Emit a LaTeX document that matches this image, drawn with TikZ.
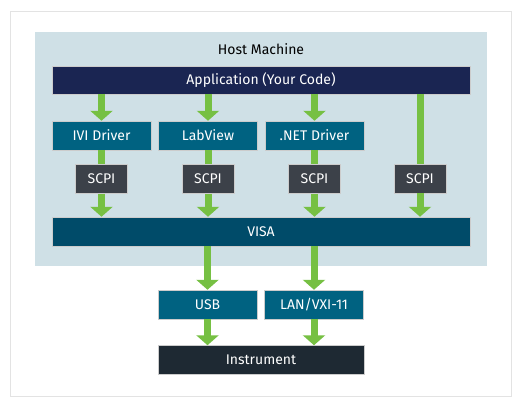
\documentclass[tikz,border=0pt]{standalone}
\usepackage{fontspec}
\setmainfont{Fira Sans}
\usepackage{tikz}
\usetikzlibrary{arrows.meta, positioning}
\definecolor{hostColor}{HTML}{CFE0E6}
\definecolor{appColor}{HTML}{1A2552}
\definecolor{driverColor}{HTML}{006281}
\definecolor{scpiColor}{HTML}{3C4149}
\definecolor{visaColor}{HTML}{004B69}
\definecolor{instrColor}{HTML}{1E2933}
\definecolor{arrowColor}{HTML}{76C043}
\tikzstyle{bar} = [rectangle,
minimum width=418pt,
minimum height=28pt,
text centered,
draw=gray!40, line width=0.5pt,
text=white]
\tikzstyle{driver} = [rectangle,
minimum width=99pt,
minimum height=29pt,
text centered,
draw=gray!40, line width=0.5pt,
text=white, fill=driverColor]
\tikzstyle{scpi} = [rectangle,
minimum width=52pt,
minimum height=29pt,
text centered,
draw=gray!40, line width=0.5pt,
text=white, fill=scpiColor]
\tikzstyle{link} = [draw=arrowColor, line width=7pt]
\tikzstyle{arrow} = [link, -{Triangle[width=22pt,length=10pt]}, arrowColor]

\begin{document}
\begin{tikzpicture}[x=1pt,y=-1pt,node distance=14pt and 7pt,font=\fontsize{14}{16}\selectfont]
    \useasboundingbox (0,0) rectangle (522,402);
    % Frame
    \draw[draw=gray!22, fill=white, line width=1pt] (10,11) rectangle (511.5,396.5);
    \node[rectangle, fill=hostColor, minimum width=452pt, minimum height=234pt] (host) at (261,149) {};
    \node (hostlabel) at (261,49) {Host Machine};

    % Nodes
    \node[bar, fill=appColor] (app) at (261,80) {Application (Your Code)};
    \node[driver] (ivi) at (101.5,135.5) {IVI Driver};
    \node[driver, right=of ivi] (labview) {LabView};
    \node[driver, right=of labview] (net) {.NET Driver};
    \node[scpi, below=of ivi] (scpiA) {SCPI};
    \node[scpi, below=of labview] (scpiB) {SCPI};
    \node[scpi, below=of net] (scpiC) {SCPI};
    \node[scpi] (scpiD) at (420,178.5) {SCPI};
    \node[bar, fill=visaColor, minimum height=29pt] (visa) at (261,231.5) {VISA};
    \node[driver] (usb) at (207.5,304.5) {USB};
    \node[driver, right=of usb] (lan) {LAN/VXI-11};
    \node[bar, fill=instrColor, minimum width=206pt, minimum height=29pt, below=26pt of usb.south west, anchor=north west] (instr) {Instrument};

    % Arrows
    \draw[arrow] (app.south -| ivi) -- (ivi);
    \draw[arrow] (app.south -| labview) -- (labview);
    \draw[arrow] (app.south -| net) -- (net);
    \draw[link] (app.south -| scpiD) -- (scpiD);
    \draw[link] (ivi) -- (scpiA);
    \draw[link] (labview) -- (scpiB);
    \draw[link] (net) -- (scpiC);
    \draw[arrow] (scpiA) -- (scpiA |- visa.north);
    \draw[arrow] (scpiB) -- (scpiB |- visa.north);
    \draw[arrow] (scpiC) -- (scpiC |- visa.north);
    \draw[arrow] (scpiD) -- (scpiD |- visa.north);
    \draw[arrow] (visa.south -| usb) -- (usb);
    \draw[arrow] (visa.south -| lan) -- (lan);
    \draw[arrow] (usb) -- (usb |- instr.north);
    \draw[arrow] (lan) -- (lan |- instr.north);
\end{tikzpicture}
\end{document}
